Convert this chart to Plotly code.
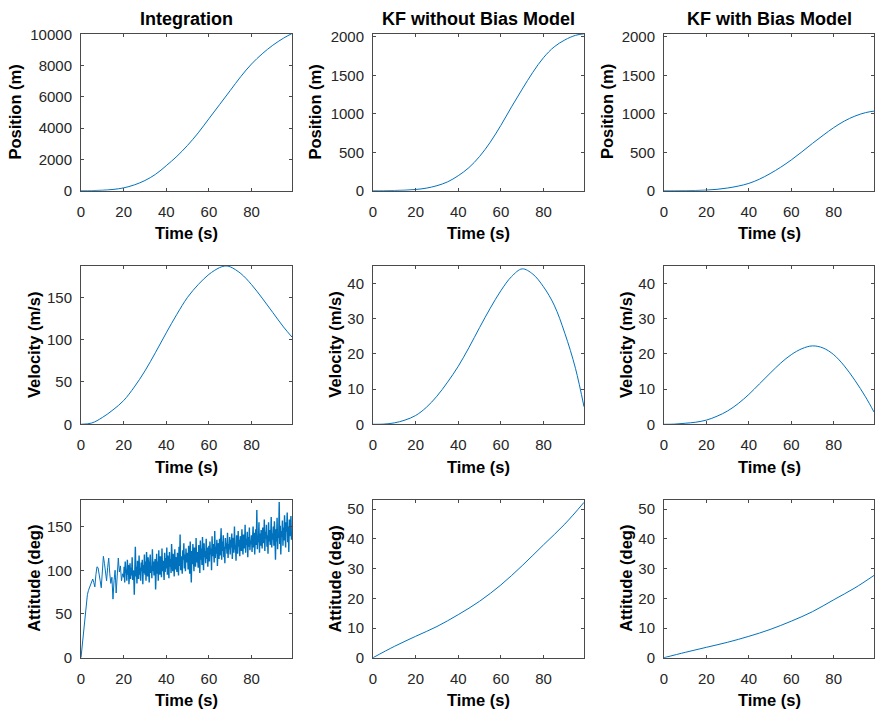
import numpy as np
import plotly.graph_objects as go

# ---------------- data ----------------
col_titles = ["Integration", "KF without Bias Model", "KF with Bias Model"]
row_ylabels = ["Position (m)", "Velocity (m/s)", "Attitude (deg)"]
xlabel = "Time (s)"

t_s = [0, 5, 10, 15, 20, 25, 30, 35, 40, 45, 50, 55, 60, 65, 70, 75, 80, 85, 90, 95, 99]

int_pos = [0, 5, 30, 80, 180, 370, 650, 1050, 1600, 2200, 2900, 3700, 4600, 5500, 6400,
           7300, 8100, 8750, 9300, 9750, 10050]
t_iv = [0, 5, 10, 15, 20, 25, 30, 35, 40, 45, 50, 55, 60, 65, 68, 70, 75, 80, 85, 90, 95, 99]
int_vel = [0, 1.5, 8, 17, 28, 44, 63, 85, 108, 130, 150, 165, 177, 185, 187, 186, 178, 165,
           149, 132, 115, 103]

kf_pos = [0, 0.5, 3, 7, 16, 33, 65, 115, 195, 300, 445, 630, 850, 1090, 1320, 1540, 1730,
          1870, 1960, 2020, 2040]
kf_vel = [0, 0.05, 0.4, 1.2, 2.5, 4.8, 8, 12, 16.5, 21.8, 27.5, 33, 38, 42, 44.2, 42.7,
          39.1, 33.9, 25.9, 15.9, 5]

kfb_pos = [0, 0.2, 1, 3, 8, 18, 35, 60, 95, 150, 222, 305, 400, 505, 615, 720, 820, 905,
           970, 1015, 1035]
kfb_vel = [0, 0.05, 0.3, 0.6, 1.2, 2.3, 3.8, 5.9, 8.5, 11.5, 14.5, 17.4, 19.8, 21.5, 22.3,
           21.7, 19.8, 16.6, 12.5, 7.8, 3.5]

t_a = [0, 10, 20, 30, 40, 50, 60, 70, 80, 90, 99]
kf_att = [0, 3.8, 7.2, 10.5, 14.5, 19, 24.5, 31, 38, 45, 52.3]
kfb_att = [0, 1.8, 3.5, 5.2, 7.2, 9.5, 12.3, 15.5, 19.5, 23.5, 27.7]

# integrated attitude, 0-19.5 s every 0.5 s
int_att_early = [
    0, 12, 25, 38, 52, 63, 72, 77, 80, 84, 88,
    90, 86, 81, 95, 104, 103, 97, 88, 80, 95,
    116, 108, 98, 88, 103, 114, 96, 85, 92, 67,
    88, 100, 74, 90, 114, 98, 105, 88, 96,
]
# integrated attitude, 20-99 s every 0.25 s
int_att_late = [
    92, 104, 86, 110, 97, 101, 88, 112, 95, 106, 84, 99, 108, 90, 103, 94, 115, 89, 100, 96,
    72, 108, 127, 93, 104, 85, 111, 98, 90, 117, 95, 103, 88, 109, 99, 112, 84, 106, 97, 118,
    95, 110, 88, 121, 100, 93, 115, 102, 86, 108, 118, 97, 105, 91, 124, 99, 110, 94, 106, 113,
    78, 104, 119, 96, 110, 88, 123, 101, 95, 116, 107, 92, 125, 99, 111, 103, 89, 120, 98, 114,
    102, 126, 95, 117, 108, 91, 121, 104, 113, 97, 130, 106, 99, 119, 110, 93, 124, 101, 115, 107,
    98, 120, 111, 94, 127, 105, 141, 100, 116, 108, 96, 123, 112, 131, 102, 118, 99, 125, 109, 114,
    120, 101, 128, 110, 96, 133, 114, 86, 122, 107, 130, 118, 99, 126, 112, 104, 137, 109, 121, 115,
    103, 129, 117, 97, 134, 112, 125, 106, 138, 119, 100, 131, 115, 122, 108, 136, 113, 126, 104, 120,
    128, 110, 133, 118, 125, 100, 139, 116, 130, 121, 109, 145, 114, 127, 119, 135, 105, 124, 131, 113,
    136, 117, 129, 148, 112, 133, 122, 140, 115, 127, 108, 137, 125, 131, 119, 143, 114, 130, 124, 138,
    118, 135, 126, 142, 113, 131, 137, 120, 150, 124, 129, 111, 140, 132, 119, 145, 127, 135, 116, 139,
    133, 122, 147, 128, 118, 141, 131, 125, 152, 120, 136, 129, 144, 115, 138, 127, 149, 123, 134, 130,
    140, 121, 137, 150, 126, 143, 118, 135, 147, 129, 169, 124, 139, 132, 155, 120, 142, 128, 146, 134,
    125, 149, 137, 131, 158, 122, 144, 136, 152, 127, 140, 119, 155, 133, 146, 129, 138, 161, 126, 142,
    135, 150, 128, 156, 139, 112, 147, 133, 160, 124, 143, 137, 178, 130, 151, 118, 145, 138, 157, 128,
    149, 134, 163, 140, 126, 155, 144, 166, 132, 150, 121, 158, 139, 147, 162, 135, 143,
]
t_att_early = np.arange(len(int_att_early)) * 0.5
t_att_late = 20 + np.arange(len(int_att_late)) * 0.25

x_ticks = [0, 20, 40, 60, 80]
y_ranges = [[0, 10050], [0, 2044], [0, 2044],
            [0, 187.3], [0, 45.1], [0, 45.1],
            [0, 180.4], [0, 53.1], [0, 53.1]]
y_ticks = [[0, 2000, 4000, 6000, 8000, 10000], [0, 500, 1000, 1500, 2000], [0, 500, 1000, 1500, 2000],
           [0, 50, 100, 150], [0, 10, 20, 30, 40], [0, 10, 20, 30, 40],
           [0, 50, 100, 150], [0, 10, 20, 30, 40, 50], [0, 10, 20, 30, 40, 50]]

# ---------------- layout geometry (pixels) ----------------
W, H = 884, 714
col_px = [(81, 292), (373, 584), (664, 874)]
row_px = [(33.5, 190.7), (265.7, 424.3), (500, 657.7)]
ylab_x = [[15.5, 34, 34], [315.5, 334.7, 334.7], [607, 626, 626]]

LINE = "#0072BD"
AX = "#262626"
BOX = "#4a4a4a"
FONT = "Liberation Sans, Arial, Helvetica, sans-serif"

series = [
    [(t_s, int_pos, "spline", 1)], [(t_s, kf_pos, "spline", 1)], [(t_s, kfb_pos, "spline", 1)],
    [(t_iv, int_vel, "spline", 1)], [(t_s, kf_vel, "spline", 1)], [(t_s, kfb_vel, "spline", 1)],
    [(np.append(t_att_early, 20.0), int_att_early + [int_att_late[0]], "linear", 1),
     (t_att_late, int_att_late, "linear", 1.4)],
    [(t_a, kf_att, "spline", 1)], [(t_a, kfb_att, "spline", 1)],
]

fig = go.Figure()
layout = dict(width=W, height=H, margin=dict(l=0, r=0, t=0, b=0, pad=0, autoexpand=False),
              paper_bgcolor="white", plot_bgcolor="white", showlegend=False,
              font=dict(family=FONT, color=AX, size=15))
annotations = []

for i in range(9):
    r, c = divmod(i, 3)
    n = i + 1
    xa = "xaxis" if n == 1 else f"xaxis{n}"
    ya = "yaxis" if n == 1 else f"yaxis{n}"
    xr = "x" if n == 1 else f"x{n}"
    yr = "y" if n == 1 else f"y{n}"
    x0, x1 = col_px[c]
    y0, y1 = row_px[r]
    common = dict(showline=True, linecolor=BOX, linewidth=1, mirror="ticks",
                  ticks="inside", ticklen=3, tickcolor=BOX, tickwidth=1,
                  showgrid=False, zeroline=False, automargin=False,
                  tickfont=dict(family=FONT, size=15, color=AX))
    layout[xa] = dict(domain=[x0 / W, x1 / W], anchor=yr, range=[0, 99],
                      tickvals=x_ticks, ticktext=[str(v) for v in x_ticks],
                      ticklabelstandoff=7, **common)
    layout[ya] = dict(domain=[1 - y1 / H, 1 - y0 / H], anchor=xr, range=y_ranges[i],
                      tickvals=y_ticks[i], ticktext=[str(v) for v in y_ticks[i]],
                      ticklabelstandoff=5, **common)
    for xs, ys, shape, lw in series[i]:
        fig.add_trace(go.Scatter(x=xs, y=ys, mode="lines", xaxis=xr, yaxis=yr,
                                 line=dict(color=LINE, width=lw, shape=shape, smoothing=1.0),
                                 hoverinfo="skip"))
    annotations.append(dict(text="<b>" + xlabel + "</b>", xref="paper", yref="paper",
                            x=(x0 + x1) / 2 / W, y=1 - (y1 + 42.3) / H,
                            xanchor="center", yanchor="middle", showarrow=False,
                            font=dict(family=FONT, size=16.5, color="black")))
    annotations.append(dict(text="<b>" + row_ylabels[r] + "</b>", xref="paper", yref="paper",
                            x=ylab_x[c][r] / W, y=1 - (y0 + y1) / 2 / H, textangle=-90,
                            xanchor="center", yanchor="middle", showarrow=False,
                            font=dict(family=FONT, size=16.5, color="black")))

for c in range(3):
    x0, x1 = col_px[c]
    annotations.append(dict(text="<b>" + col_titles[c] + "</b>", xref="paper", yref="paper",
                            x=(x0 + x1) / 2 / W, y=1 - 19 / H,
                            xanchor="center", yanchor="middle", showarrow=False,
                            font=dict(family=FONT, size=18, color="black")))

layout["annotations"] = annotations
fig.update_layout(**layout)
fig.write_html("out.html", config={"displayModeBar": False},
               post_script="document.body.style.margin='0px';document.body.style.overflow='hidden';")
